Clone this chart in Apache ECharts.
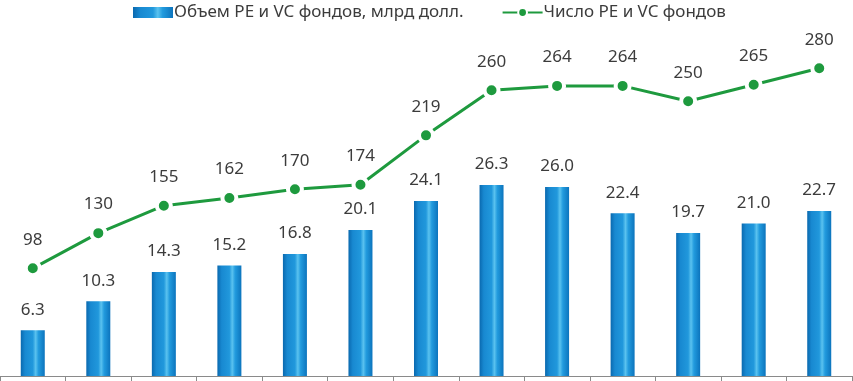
<!DOCTYPE html>
<html>
<head>
<meta charset="utf-8">
<script src="https://cdn.jsdelivr.net/npm/echarts@6/dist/echarts.min.js"></script>
<style>
  html, body { margin: 0; padding: 0; background: #fff; }
  #box { width: 853px; height: 381px; }
</style>
</head>
<body>
<div id="box"></div>
<script>
// категории (подписи оси обрезаны на картинке)
var categories = ['1', '2', '3', '4', '5', '6', '7', '8', '9', '10', '11', '12', '13'];
// объем фондов, млрд долл.
var volume = [6.3, 10.3, 14.3, 15.2, 16.8, 20.1, 24.1, 26.3, 26.0, 22.4, 19.7, 21.0, 22.7];
// число фондов
var funds = [98, 130, 155, 162, 170, 174, 219, 260, 264, 264, 250, 265, 280];

var seriesNames = ['Объем PE и VC фондов, млрд долл.', 'Число PE и VC фондов'];

var barColor = new echarts.graphic.LinearGradient(0, 0, 1, 0, [
  { offset: 0, color: '#0a69af' },
  { offset: 0.18, color: '#1889d1' },
  { offset: 0.5, color: '#2198dc' },
  { offset: 0.62, color: '#5ac2ef' },
  { offset: 0.74, color: '#229bde' },
  { offset: 1, color: '#0c74bd' }
]);

var myChart = echarts.init(document.getElementById('box'));
var option = {
  animation: false,
  textStyle: { fontFamily: 'Noto Sans' },
  legend: {
    top: -1,
    left: 128,
    itemGap: 38,
    itemHeight: 11,
    itemWidth: 40,
    textStyle: { fontSize: 17, color: '#3c3c3c', padding: [0, 0, 0, -4] },
    data: [
      { name: seriesNames[0], icon: 'rect' },
      { name: seriesNames[1] }
    ]
  },
  grid: { left: 0, right: 1, top: 36, bottom: 5 },
  xAxis: {
    type: 'category',
    data: categories,
    axisLine: { lineStyle: { color: '#8a8a8a', width: 1 } },
    axisTick: { show: true, length: 8, lineStyle: { color: '#8a8a8a' } },
    axisLabel: { show: false }
  },
  yAxis: [
    { type: 'value', min: 0, max: 46.8, show: false, splitLine: { show: false } },
    { type: 'value', min: 0, max: 309.4, show: false, splitLine: { show: false } }
  ],
  series: [
    {
      name: seriesNames[0],
      type: 'bar',
      yAxisIndex: 0,
      barWidth: 24,
      data: volume,
      itemStyle: { color: barColor },
      label: {
        show: true,
        position: 'top',
        distance: 12,
        fontSize: 17,
        color: '#3c3c3c',
        formatter: function (p) { return p.value.toFixed(1); }
      }
    },
    {
      name: seriesNames[1],
      type: 'line',
      yAxisIndex: 1,
      data: funds,
      symbol: 'circle',
      symbolSize: 14,
      lineStyle: { color: '#1e9a3e', width: 3 },
      itemStyle: { color: '#1e9a3e', borderColor: '#fff', borderWidth: 4 },
      label: {
        show: true,
        position: 'top',
        distance: 11,
        fontSize: 17,
        color: '#3c3c3c'
      }
    }
  ]
};
myChart.setOption(option);
</script>
</body>
</html>
